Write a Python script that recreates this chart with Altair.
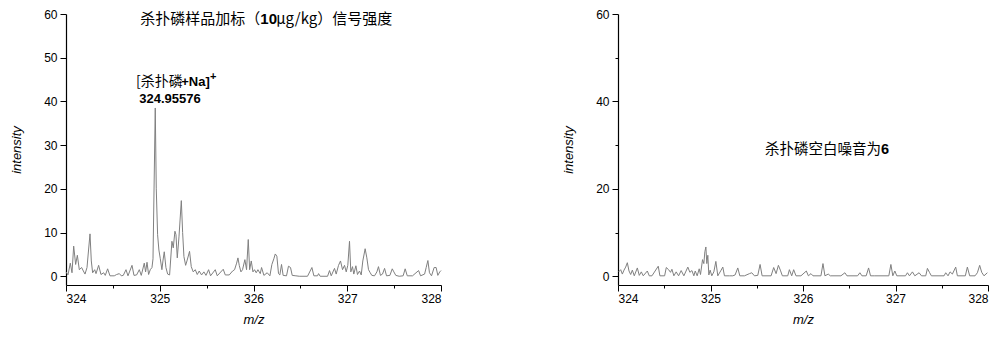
import altair as alt
import pandas as pd

# ---------------- data: left panel (spiked sample) ----------------
mz_left = [324.000, 324.021, 324.046, 324.064, 324.082, 324.103, 324.121, 324.142, 324.167, 324.185,
           324.203, 324.224, 324.256, 324.270, 324.284, 324.306, 324.320, 324.348, 324.373, 324.402,
           324.419, 324.444, 324.469, 324.515, 324.540, 324.569, 324.590, 324.611, 324.640, 324.661,
           324.704, 324.725, 324.753, 324.782, 324.803, 324.835, 324.849, 324.864, 324.881, 324.899,
           324.917, 324.928, 324.952, 324.963, 324.977, 324.991, 325.006, 325.023, 325.034, 325.048,
           325.066, 325.084, 325.105, 325.130, 325.144, 325.162, 325.173, 325.187, 325.205, 325.230,
           325.244, 325.258, 325.276, 325.290, 325.318, 325.336, 325.357, 325.379, 325.400, 325.421,
           325.446, 325.471, 325.493, 325.521, 325.542, 325.592, 325.613, 325.677, 325.699, 325.741,
           325.777, 325.798, 325.820, 325.834, 325.848, 325.866, 325.883, 325.908, 325.926, 325.944,
           325.959, 325.976, 325.994, 326.011, 326.029, 326.047, 326.072, 326.086, 326.111, 326.146,
           326.175, 326.196, 326.217, 326.232, 326.249, 326.267, 326.281, 326.299, 326.316, 326.352,
           326.373, 326.395, 326.413, 326.452, 326.488, 326.576, 326.623, 326.644, 326.683, 326.694,
           326.711, 326.790, 326.811, 326.829, 326.864, 326.882, 326.907, 326.928, 326.950, 326.971,
           326.989, 327.006, 327.024, 327.038, 327.056, 327.070, 327.092, 327.109, 327.131, 327.149,
           327.166, 327.191, 327.209, 327.227, 327.245, 327.262, 327.291, 327.316, 327.333, 327.354,
           327.376, 327.398, 327.419, 327.455, 327.480, 327.497, 327.518, 327.554, 327.596, 327.618,
           327.640, 327.696, 327.761, 327.782, 327.825, 327.842, 327.860, 327.877, 327.899, 327.927,
           327.948, 327.966, 327.987, 328.000]
int_left = [1.0, 0.3, 3.0, 0.8, 6.9, 2.7, 4.8, 1.5, 2.0, 1.2,
            0.5, 2.0, 9.7, 3.5, 0.8, 1.5, 0.6, 2.5, 0.4, 0.8,
            0.2, 1.7, 0.1, 0.1, 0.4, 0.6, 0.1, 0.2, 1.5, 0.1,
            2.5, 0.2, 0.3, 1.5, 0.2, 3.0, 1.0, 3.2, 0.4, 1.5,
            2.0, 4.0, 38.5, 20.0, 9.5, 6.0, 4.0, 1.5, 3.5, 5.6,
            2.0, 0.5, 0.3, 8.0, 6.5, 10.3, 9.5, 4.2, 9.0, 17.3,
            10.0, 4.5, 2.5, 3.5, 5.7, 2.2, 1.0, 1.5, 0.4, 1.2,
            0.3, 1.0, 0.2, 1.5, 0.1, 1.5, 0.1, 1.6, 0.3, 0.3,
            1.2, 1.5, 3.0, 4.2, 2.5, 1.0, 1.5, 3.8, 1.5, 8.4,
            1.5, 3.5, 1.0, 1.5, 0.8, 1.5, 0.6, 2.0, 0.2, 0.8,
            0.1, 2.7, 4.0, 5.1, 4.6, 0.6, 0.3, 2.7, 0.2, 0.1,
            2.3, 2.0, 0.2, 0.1, 0.0, 0.0, 2.0, 0.1, 0.1, 0.6,
            0.0, 0.0, 1.3, 0.1, 1.8, 0.5, 2.5, 3.5, 1.5, 2.5,
            1.0, 2.5, 8.0, 1.0, 2.2, 0.5, 2.4, 0.4, 1.2, 0.3,
            3.5, 6.3, 4.2, 1.5, 0.8, 0.2, 0.1, 1.0, 2.2, 0.2,
            0.5, 1.8, 0.1, 0.2, 1.7, 1.0, 0.2, 0.0, 0.1, 1.7,
            0.1, 0.1, 1.3, 0.1, 0.5, 2.0, 3.6, 0.8, 0.1, 2.0,
            2.0, 0.2, 1.0, 1.3]

# ---------------- data: right panel (blank) ----------------
mz_right = [324.007, 324.029, 324.047, 324.065, 324.083, 324.101, 324.119, 324.137, 324.155, 324.176,
            324.209, 324.230, 324.252, 324.273, 324.317, 324.338, 324.367, 324.435, 324.453, 324.504,
            324.522, 324.547, 324.568, 324.583, 324.604, 324.629, 324.655, 324.683, 324.712, 324.755,
            324.777, 324.799, 324.820, 324.835, 324.856, 324.878, 324.892, 324.914, 324.928, 324.939,
            324.950, 324.960, 324.971, 324.982, 324.996, 325.014, 325.036, 325.058, 325.079, 325.115,
            325.133, 325.151, 325.205, 325.241, 325.266, 325.295, 325.317, 325.367, 325.421, 325.446,
            325.475, 325.511, 325.536, 325.558, 325.655, 325.683, 325.709, 325.734, 325.755, 325.777,
            325.835, 325.853, 325.878, 325.899, 325.924, 325.978, 326.036, 326.058, 326.086, 326.108,
            326.194, 326.216, 326.237, 326.273, 326.295, 326.410, 326.453, 326.475, 326.590, 326.615,
            326.637, 326.683, 326.709, 326.730, 326.770, 326.928, 326.950, 326.971, 326.993, 327.014,
            327.108, 327.129, 327.151, 327.183, 327.209, 327.255, 327.281, 327.327, 327.345, 327.367,
            327.388, 327.525, 327.543, 327.568, 327.590, 327.615, 327.651, 327.669, 327.755, 327.777,
            327.802, 327.860, 327.885, 327.910, 327.932, 327.957, 327.993]
int_right = [1.0, 1.5, 0.5, 1.4, 2.1, 3.1, 1.2, 0.4, 1.4, 0.1,
             1.9, 0.2, 1.0, 0.1, 1.2, 0.1, 0.1, 2.3, 0.1, 0.1,
             2.0, 1.5, 0.9, 1.6, 0.1, 1.0, 0.1, 1.3, 0.1, 2.1,
             0.9, 1.3, 0.1, 1.2, 0.1, 1.7, 0.4, 3.8, 2.9, 5.6,
             6.7, 2.9, 4.8, 0.3, 1.4, 0.1, 1.0, 3.4, 0.1, 1.4,
             2.1, 0.1, 0.1, 0.1, 0.3, 1.9, 0.1, 0.1, 0.6, 0.8,
             0.1, 0.2, 2.7, 0.1, 0.1, 2.0, 0.6, 2.5, 1.4, 0.1,
             0.1, 1.5, 0.1, 1.5, 0.1, 0.1, 1.2, 0.1, 0.6, 0.1,
             0.1, 2.9, 0.1, 0.5, 0.1, 0.1, 0.8, 0.1, 0.1, 0.8,
             0.1, 0.1, 1.9, 0.1, 0.1, 0.1, 2.7, 0.1, 1.2, 0.1,
             0.1, 0.8, 0.1, 1.0, 0.1, 0.8, 0.1, 0.1, 1.8, 0.9,
             0.1, 0.1, 0.8, 0.1, 1.0, 0.5, 2.1, 0.1, 0.1, 2.1,
             0.1, 0.1, 0.8, 2.5, 0.9, 0.1, 0.8]

# ---------------- ticks ----------------
x_tick_values = [324, 324.5, 325, 325.5, 326, 326.5, 327, 327.5, 328]
y_tick_left = [0, 5, 10, 15, 20, 25, 30, 35, 40, 45, 50, 55, 60]
y_tick_right = [0, 10, 20, 30, 40, 50, 60]
x_domain = [324, 328]
y_domain = [-2, 60]

# ---------------- annotations ----------------
left_title_a = ["杀扑磷样品加标（"]
left_title_b = ["10"]
left_title_c = ["μg/kg）信号强度"]
left_title_pos = [326.073, 58.9]
left_title_c_x = 326.242

ion_a = ["[杀扑磷"]
ion_b = ["+Na]"]
ion_sup = ["+"]
ion_mass = ["324.95576"]

right_text_a = ["杀扑磷空白噪音为"]
right_text_b = ["6"]
right_text_pos = [326.844, 28.85]

CJK = "Noto Sans CJK SC"
LAT = "Liberation Sans"
LINE_COLOR = "#808080"


def x_axis():
    return alt.Axis(
        values=x_tick_values, format=".0f",
        labelExpr="datum.value % 1 === 0 ? datum.label : ''",
        tickSize={"condition": {"test": "datum.value % 1 === 0", "value": 6}, "value": 3},
        title="m/z", titleFontStyle="italic", titleFontWeight="normal", titleFontSize=13,
        titleFont=LAT, titlePadding=9, labelPadding=2, grid=False,
        domainColor="black", tickColor="black", labelColor="black", titleColor="black",
        labelFont=LAT, labelFontSize=12, domainWidth=1.2, tickWidth=1,
    )


def y_axis(values, major):
    return alt.Axis(
        values=values, format=".0f",
        labelExpr=f"datum.value % {major} === 0 ? datum.label : ''",
        tickSize={"condition": {"test": f"datum.value % {major} === 0", "value": 6}, "value": 3},
        title="intensity", titleFontStyle="italic", titleFontWeight="normal", titleFontSize=13,
        titleFont=LAT, titlePadding=20, labelPadding=3, grid=False,
        domainColor="black", tickColor="black", labelColor="black", titleColor="black",
        labelFont=LAT, labelFontSize=12, domainWidth=1.2, tickWidth=1,
    )


xs = alt.Scale(domain=x_domain, nice=False, zero=False)
ys = alt.Scale(domain=y_domain, nice=False, zero=False)


def text_layer(text, x, y, align, size, weight="normal", font=CJK):
    df = pd.DataFrame({"mz": [x], "intensity": [y], "label": text})
    return alt.Chart(df).mark_text(
        align=align, baseline="middle", fontSize=size, fontWeight=weight,
        font=font, color="black"
    ).encode(x=alt.X("mz:Q", scale=xs), y=alt.Y("intensity:Q", scale=ys), text="label:N")


df_left = pd.DataFrame({"mz": mz_left, "intensity": int_left})
df_right = pd.DataFrame({"mz": mz_right, "intensity": int_right})

line_left = alt.Chart(df_left).mark_line(color=LINE_COLOR, strokeWidth=1).encode(
    x=alt.X("mz:Q", scale=xs, axis=x_axis()),
    y=alt.Y("intensity:Q", scale=ys, axis=y_axis(y_tick_left, 10)),
)

left = alt.layer(
    line_left,
    text_layer(left_title_a, left_title_pos[0], left_title_pos[1], "right", 15),
    text_layer(left_title_b, left_title_pos[0], left_title_pos[1], "left", 15, "bold", LAT),
    text_layer(left_title_c, left_title_c_x, left_title_pos[1], "left", 15),
    text_layer(ion_a, 324.746, 44.5, "left", 14),
    text_layer(ion_b, 325.229, 44.5, "left", 13, "bold", LAT),
    text_layer(ion_sup, 325.535, 45.7, "left", 11, "bold", LAT),
    text_layer(ion_mass, 324.782, 40.5, "left", 13, "bold", LAT),
).properties(width=375, height=271)

line_right = alt.Chart(df_right).mark_line(color=LINE_COLOR, strokeWidth=1).encode(
    x=alt.X("mz:Q", scale=xs, axis=x_axis()),
    y=alt.Y("intensity:Q", scale=ys, axis=y_axis(y_tick_right, 20)),
)

right = alt.layer(
    line_right,
    text_layer(right_text_a, right_text_pos[0], right_text_pos[1], "right", 14.5),
    text_layer(right_text_b, right_text_pos[0], right_text_pos[1], "left", 14.5, "bold", LAT),
).properties(width=370, height=271)

chart = alt.hconcat(left, right, spacing=119).properties(
    padding={"left": 2, "top": 0, "right": 0, "bottom": 0},
    background="white",
).configure_view(stroke=None)

chart.save("out.html", embed_options={"renderer": "svg", "actions": False})
